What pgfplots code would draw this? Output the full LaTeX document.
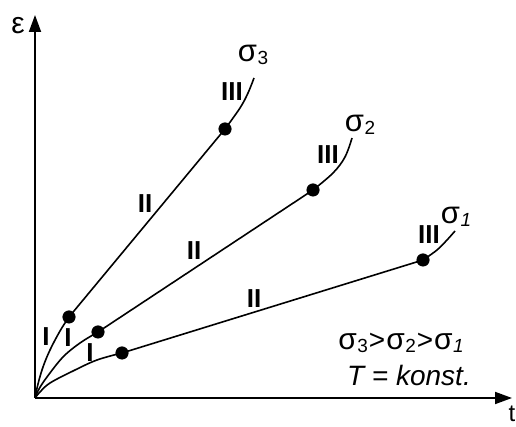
\documentclass[border=0pt]{standalone}
\usepackage{pgfplots}
\pgfplotsset{compat=1.18}
\usepackage{fontspec}
\setmainfont{Liberation Sans}
\usetikzlibrary{arrows.meta}

\newcommand{\lbl}{\fontsize{26}{28}\selectfont\bfseries}
\newcommand{\txt}{\fontsize{28}{30}\selectfont}
% stress symbol with a subscript
\newcommand{\sgm}[3]{{\fontsize{#1}{#1}\selectfont σ}\kern0.5pt\raisebox{-0.2\height}{\fontsize{#2}{#2}\selectfont #3}}

\begin{document}
\begin{tikzpicture}
\begin{axis}[
  name=ax,
  scale only axis,
  width=477pt, height=383pt,
  xmin=0, xmax=477, ymin=0, ymax=383,
  axis lines=left,
  axis line style={line width=1.8pt, -{Triangle[length=17pt,width=12pt]}},
  xtick=\empty, ytick=\empty,
  clip=false,
]
% creep curves: primary (I), secondary (II), tertiary (III)
\pgfplotsset{cv/.style={black, line width=1.6pt}}
% sigma_3
\addplot[cv, smooth, tension=0.6] coordinates {(0,0) (3,14) (8,31) (15,48) (25,67) (34,81)};
\addplot[cv] coordinates {(34,81) (190,269)};
\addplot[cv, smooth, tension=0.6] coordinates {(190,269) (205,290) (213,305) (219,320)};
% sigma_2
\addplot[cv, smooth, tension=0.6] coordinates {(0,0) (4,9) (12,21) (28,41) (45,55) (63,66)};
\addplot[cv] coordinates {(63,66) (278,208)};
\addplot[cv, smooth, tension=0.6] coordinates {(278,208) (298,225) (310,241) (317,260)};
% sigma_1
\addplot[cv, smooth, tension=0.6] coordinates {(0,0) (5,6) (15,15) (38,27) (62,38) (87,45)};
\addplot[cv] coordinates {(87,45) (388,138)};
\addplot[cv, smooth, tension=0.6] coordinates {(388,138) (402,148) (412,158) (420,167)};
% stage transitions
\addplot[only marks, mark=*, mark size=6.3pt, black] coordinates {
  (34,81) (190,269) (63,66) (278,208) (87,45) (388,138)};

% stage labels
\node[font=\lbl] at (axis cs:11,61) {I};
\node[font=\lbl] at (axis cs:33,60) {I};
\node[font=\lbl] at (axis cs:55,45) {I};
\node[font=\lbl] at (axis cs:110,194) {II};
\node[font=\lbl] at (axis cs:159,147) {II};
\node[font=\lbl] at (axis cs:219,99) {II};
\node[font=\lbl] at (axis cs:197,306) {III};
\node[font=\lbl] at (axis cs:293,243) {III};
\node[font=\lbl] at (axis cs:394,163) {III};
% stress labels
\node at (axis cs:218,343) {\sgm{31}{19}{3}};
\node at (axis cs:325,273) {\sgm{31}{19}{2}};
\node at (axis cs:421,181) {\sgm{31}{19}{\itshape 1}};
% axis labels
\node[font=\fontsize{30}{30}\selectfont] at (axis cs:-17,372) {ε};
\node[font=\fontsize{24}{24}\selectfont] at (axis cs:477,-16) {t};
% legend text
\node[anchor=east, inner sep=0pt] at (axis cs:429,55) {\sgm{30}{19}{3}\kern1pt{\txt>}\kern1pt\sgm{30}{19}{2}\kern1pt{\txt>}\kern1pt\sgm{30}{19}{\itshape 1}};
\node[font=\txt, anchor=east, inner sep=0pt] at (axis cs:436,23) {\itshape T = konst.};
\end{axis}
\pgfresetboundingbox
\path (ax.south west) ++(-35pt,-29pt) rectangle ++(516pt,427pt);
\end{tikzpicture}
\end{document}
